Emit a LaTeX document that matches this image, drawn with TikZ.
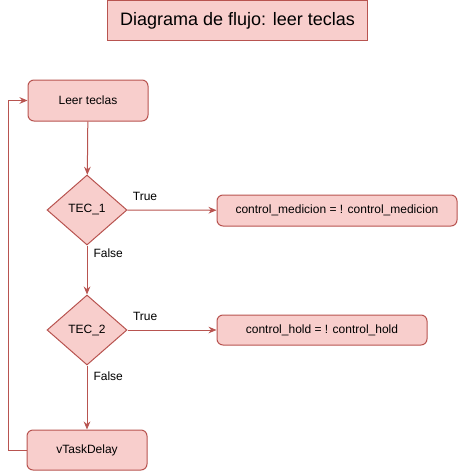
\documentclass[tikz,border=0pt]{standalone}
\usepackage{fontspec}
\setmainfont{Liberation Sans}
\usetikzlibrary{arrows.meta,shapes.geometric}
\definecolor{boxfill}{HTML}{F8CECC}
\definecolor{boxline}{HTML}{B85450}
\begin{document}
\begin{tikzpicture}[x=0.75pt,y=-0.75pt,
    proc/.style={draw=boxline,fill=boxfill,rounded corners=4.5pt,line width=0.75pt,font=\fontsize{9}{11}\selectfont,inner sep=0pt},
    cond/.style={draw=boxline,fill=boxfill,diamond,line width=0.75pt,font=\fontsize{9}{11}\selectfont,inner sep=0pt,minimum width=60pt,minimum height=52.5pt,aspect=1.14},
    flow/.style={draw=boxline,line width=0.75pt,-{Stealth[length=6pt,width=5pt]}},
    lbl/.style={font=\fontsize{9}{11}\selectfont,inner sep=0pt,anchor=west}]
    \useasboundingbox (0,0) rectangle (458,471);

    \node[proc,rounded corners=0pt,minimum width=195pt,minimum height=30pt,font=\fontsize{13.5}{16}\selectfont] (titulo) at (237.5,20.5) {Diagrama de flujo: leer teclas};

    \node[proc,minimum width=90pt,minimum height=30.75pt] (leer) at (88,100.5) {Leer teclas};
    \node[cond] (tec1) at (87,210) {TEC\_1};
    \node[proc,minimum width=180pt,minimum height=23.25pt] (med) at (337,210.5) {control\_medicion = ! control\_medicion};
    \node[cond] (tec2) at (87,330) {TEC\_2};
    \node[proc,minimum width=157.5pt,minimum height=22.5pt] (hold) at (322,330) {control\_hold = ! control\_hold};
    \node[proc,minimum width=90pt,minimum height=30pt] (delay) at (87,450) {vTaskDelay};

    \coordinate (abajo) at (8,450);
    \coordinate (arriba) at (8,100.5);

    \draw[flow] (leer) -- (tec1);
    \draw[flow] (tec1) -- node[lbl,at start,xshift=3.75pt,yshift=10.5pt] {True} (med);
    \draw[flow] (tec1) -- node[lbl,at start,xshift=4.5pt,yshift=-6pt] {False} (tec2);
    \draw[flow] (tec2) -- node[lbl,at start,xshift=3.75pt,yshift=10.5pt] {True} (hold);
    \draw[flow] (tec2) -- node[lbl,at start,xshift=4.5pt,yshift=-8pt] {False} (delay);
    \draw[flow] (delay.west) -- (abajo) -- (arriba) -- (leer.west);
  \end{tikzpicture}
\end{document}
